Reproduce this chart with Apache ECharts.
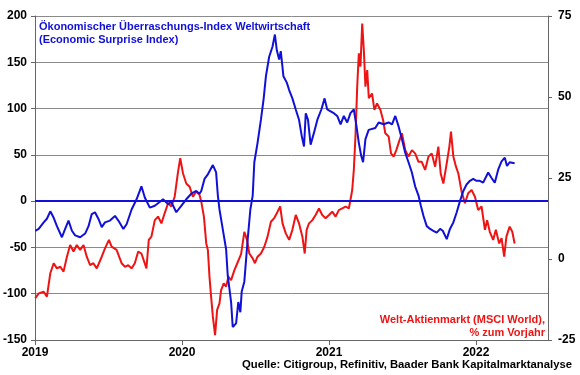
<!DOCTYPE html>
<html><head><meta charset="utf-8">
<script src="https://cdn.jsdelivr.net/npm/echarts@6/dist/echarts.min.js"></script>
<style>html,body{margin:0;padding:0;background:#fff}#c{width:580px;height:375px}</style>
</head><body><div id="c"></div>
<script>
// Economic Surprise Index (left axis), x in decimal years
const blueYears = [2019.002,2019.025,2019.059,2019.081,2019.104,2019.127,2019.149,2019.183,2019.205,2019.228,
2019.251,2019.273,2019.307,2019.341,2019.364,2019.386,2019.408,2019.431,2019.454,2019.476,
2019.510,2019.544,2019.567,2019.601,2019.623,2019.657,2019.691,2019.724,2019.747,2019.781,
2019.815,2019.848,2019.871,2019.905,2019.928,2019.961,2019.995,2020.029,2020.063,2020.097,2020.119,
2020.131,2020.153,2020.176,2020.210,2020.232,2020.244,2020.255,2020.277,2020.300,2020.311,
2020.334,2020.345,2020.368,2020.383,2020.397,2020.406,2020.424,2020.447,2020.465,2020.481,
2020.492,2020.514,2020.537,2020.555,2020.571,2020.593,2020.616,2020.632,2020.645,2020.661,
2020.672,2020.690,2020.713,2020.729,2020.751,2020.774,2020.796,2020.815,2020.830,2020.842,
2020.857,2020.875,2020.898,2020.921,2020.948,2020.970,2020.988,2021.011,2021.033,2021.056,
2021.079,2021.101,2021.124,2021.146,2021.169,2021.187,2021.203,2021.219,2021.232,2021.248,2021.270,
2021.282,2021.315,2021.338,2021.372,2021.406,2021.429,2021.451,2021.473,2021.496,2021.519,
2021.541,2021.564,2021.586,2021.609,2021.625,2021.643,2021.665,2021.688,2021.710,2021.733,
2021.756,2021.774,2021.801,2021.823,2021.846,2021.869,2021.891,2021.914,2021.936,2021.959,
2021.981,2022.004,2022.026,2022.049,2022.083,2022.106,2022.128,2022.151,2022.174,2022.196,
2022.211,2022.229,2022.263];
const blueValues = [-32,-30,-23,-19,-11,-18,-27,-39,-30,-21,
-32,-37,-39,-35,-27,-14,-12,-19,-28,-23,
-21,-16,-21,-30,-25,-9,2,16,4,-7,
-5,-1,2,-3,-1,-12,-5,2,8,11,8,
11,24,29,39,31,6,-9,-30,-52,-80,
-109,-136,-132,-109,-120,-98,-87,-41,-9,6,
42,63,88,110,135,156,167,180,163,153,
162,135,128,120,111,99,88,70,59,95,
88,61,74,88,99,111,99,97,95,92,
83,92,85,95,99,81,63,49,42,67,77,
77,79,85,83,85,83,92,81,67,52,
42,31,16,6,-5,-16,-27,-30,-32,-34,
-30,-32,-41,-30,-23,-12,0,11,18,22,
24,22,22,20,31,25,20,34,43,47,
38,42,41];

// MSCI World % yoy (right axis)
const redYears = [2019.002,2019.025,2019.059,2019.081,2019.104,2019.127,2019.149,2019.172,2019.194,2019.217,
2019.239,2019.262,2019.284,2019.307,2019.330,2019.352,2019.375,2019.397,2019.420,2019.454,
2019.476,2019.503,2019.521,2019.555,2019.589,2019.612,2019.634,2019.657,2019.679,2019.702,
2019.724,2019.758,2019.774,2019.792,2019.815,2019.837,2019.860,2019.882,2019.905,2019.928,
2019.950,2019.973,2019.988,2020.007,2020.029,2020.052,2020.074,2020.097,2020.119,
2020.131,2020.149,2020.165,2020.176,2020.187,2020.198,2020.210,2020.225,2020.239,2020.255,
2020.266,2020.284,2020.300,2020.316,2020.334,2020.356,2020.379,2020.402,2020.424,2020.442,
2020.458,2020.481,2020.496,2020.514,2020.537,2020.560,2020.582,2020.605,2020.627,2020.650,
2020.668,2020.684,2020.706,2020.729,2020.751,2020.774,2020.796,2020.819,2020.835,2020.848,
2020.864,2020.887,2020.909,2020.932,2020.954,2020.977,2021.000,2021.022,2021.045,2021.067,
2021.090,2021.113,2021.135,2021.146,2021.158,2021.169,2021.180,2021.192,2021.203,2021.214,
2021.226,2021.237,2021.248,2021.260,2021.271,
2021.282,2021.293,2021.309,2021.327,2021.350,2021.368,2021.383,2021.406,2021.422,2021.440,
2021.458,2021.480,2021.496,2021.519,2021.541,2021.564,2021.586,2021.609,2021.631,2021.654,
2021.677,2021.699,2021.722,2021.744,2021.760,2021.778,2021.801,2021.819,2021.830,2021.846,
2021.864,2021.880,2021.902,2021.925,2021.947,2021.970,2021.993,2022.015,2022.038,2022.061,
2022.076,2022.094,2022.117,2022.135,2022.158,2022.174,2022.192,2022.207,2022.229,2022.247,
2022.263];
const redValues = [-12.1,-10.6,-10.1,-11.6,-4.4,-1.3,-2.9,-2.4,-3.9,0.7,
4.3,2.3,4.3,2.8,4.3,0.7,-1.9,-1.3,-2.9,0.7,
3.3,5.9,3.8,2.8,-1.3,-2.4,-1.9,-2.9,-1.3,2.3,
1.7,-2.9,5.9,6.9,12.0,13.1,11.0,14.1,17.2,16.2,
19.2,26.9,31.1,26.4,23.3,22.3,19.2,20.8,19.8,
17.7,13.1,4.8,2.8,-5.5,-11.6,-17.8,-23.5,-15.7,-13.7,
-9.6,-7.5,-8.5,-5.5,-6.5,-3.5,-1.0,1.5,8.4,5.9,
1.7,0.2,-1.3,0.7,1.7,3.8,6.9,11.5,12.6,14.6,
16.2,11.0,7.9,5.9,9.0,13.6,11.0,6.9,1.7,9.0,
11.0,12.0,13.6,15.6,13.6,12.6,13.6,14.6,13.1,15.1,
15.6,16.2,15.6,18.2,21.3,27.5,37.8,53.2,63.5,59.4,
72.7,64.5,53.2,58.3,49.6,
49.1,51.1,46.0,48.0,46.0,42.9,38.8,37.8,32.6,31.6,
33.6,36.7,38.8,33.6,31.6,33.6,32.6,30.0,30.0,27.5,
31.6,32.6,28.5,34.7,26.4,23.3,29.5,34.7,39.3,31.6,
28.5,26.4,20.8,17.2,20.3,21.3,19.2,15.1,16.2,9.0,
12.0,8.4,5.9,9.0,4.8,6.4,0.7,6.9,10.0,8.4,
4.8];

const zeroLine = 0;
const xMin = 2019, xMax = 2022.49, xStep = 1;
const leftMin = -150, leftMax = 200, leftStep = 50;
const rightMin = -25, rightMax = 75, rightStep = 25;

const BLUE = '#1010D8', RED = '#EE1414';
const FONT = 'Liberation Sans, Arial, sans-serif';
const lab = {color:'#000', fontFamily:FONT, fontWeight:'bold', fontSize:12};

const chart = echarts.init(document.getElementById('c'), null, {renderer:'canvas'});
chart.setOption({
  animation:false,
  backgroundColor:'#fff',
  grid:{left:33, right:32, top:16, bottom:35},
  xAxis:{type:'value', min:xMin, max:xMax, interval:xStep,
    axisLine:{onZero:false, lineStyle:{color:'#666', width:1}},
    axisTick:{show:true, inside:false, length:5, lineStyle:{color:'#666'}},
    splitLine:{show:false},
    axisLabel:Object.assign({margin:7, showMaxLabel:false, formatter:v=>String(Math.round(v))}, lab)},
  yAxis:[
    {type:'value', min:leftMin, max:leftMax, interval:leftStep, position:'left',
     axisLine:{show:true, lineStyle:{color:'#666'}},
     axisTick:{show:true, length:4, lineStyle:{color:'#666'}},
     splitLine:{show:true, lineStyle:{color:'#8a8a8a', width:1}},
     axisLabel:Object.assign({margin:8}, lab)},
    {type:'value', min:rightMin, max:rightMax, interval:rightStep, position:'right',
     axisLine:{show:true, lineStyle:{color:'#666'}},
     axisTick:{show:true, length:4, lineStyle:{color:'#666'}},
     splitLine:{show:false},
     axisLabel:Object.assign({margin:10}, lab)}
  ],
  series:[
    {type:'line', yAxisIndex:1, data:redYears.map((t,i)=>[t,redValues[i]]),
     showSymbol:false, lineStyle:{color:RED, width:2}, z:2},
    {type:'line', yAxisIndex:0, data:blueYears.map((t,i)=>[t,blueValues[i]]),
     showSymbol:false, lineStyle:{color:BLUE, width:2}, z:3,
     markLine:{silent:true, symbol:'none', label:{show:false},
       lineStyle:{color:BLUE, width:2, type:'solid'}, data:[{yAxis:zeroLine}]}}
  ],
  graphic:[
    {type:'text', left:39, top:20, style:{text:'Ökonomischer Überraschungs-Index Weltwirtschaft\n(Economic Surprise Index)',
      fill:BLUE, font:'bold 11px '+FONT, lineHeight:13}},
    {type:'text', right:35, top:314, style:{text:'Welt-Aktienmarkt (MSCI World),',
      fill:RED, font:'bold 11px '+FONT}},
    {type:'text', right:35, top:327, style:{text:'% zum Vorjahr',
      fill:RED, font:'bold 11px '+FONT}},
    {type:'text', right:8, top:359, style:{text:'Quelle: Citigroup, Refinitiv, Baader Bank Kapitalmarktanalyse',
      fill:'#000', font:'bold 11.3px '+FONT}}
  ]
});
</script></body></html>
